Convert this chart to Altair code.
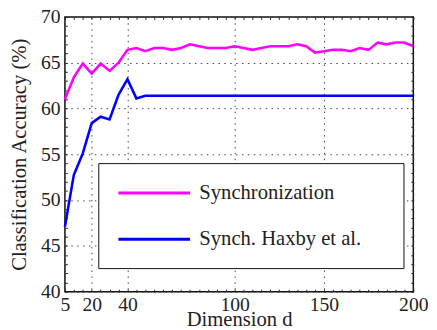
import altair as alt
import pandas as pd

dims = [5, 10, 15, 20, 25, 30, 35, 40, 45, 50, 55, 60, 65, 70, 75, 80, 85, 90, 95, 100,
        105, 110, 115, 120, 125, 130, 135, 140, 145, 150, 155, 160, 165, 170, 175, 180,
        185, 190, 195, 200]

sync = [61.0, 63.4, 64.9, 63.8, 64.9, 64.1, 65.0, 66.4, 66.6, 66.25, 66.6, 66.6, 66.4,
        66.6, 67.0, 66.8, 66.6, 66.6, 66.6, 66.8, 66.6, 66.4, 66.6, 66.8, 66.8, 66.8,
        67.0, 66.8, 66.1, 66.25, 66.4, 66.4, 66.25, 66.6, 66.4, 67.2, 67.0, 67.2, 67.2,
        66.8]

haxby = [47.1, 52.75, 55.1, 58.4, 59.1, 58.8, 61.5, 63.2, 61.1, 61.4, 61.4, 61.4, 61.4,
         61.4, 61.4, 61.4, 61.4, 61.4, 61.4, 61.4, 61.4, 61.4, 61.4, 61.4, 61.4, 61.4,
         61.4, 61.4, 61.4, 61.4, 61.4, 61.4, 61.4, 61.4, 61.4, 61.4, 61.4, 61.4, 61.4,
         61.4]

series_names = ["Synchronization", "Synch. Haxby et al."]
series_colors = ["#ff00ff", "#0000ff"]

x_ticks = [5, 20, 40, 100, 150, 200]
y_ticks = [40, 45, 50, 55, 60, 65, 70]
x_minor = dims
y_minor = list(range(40, 71))

rows = []
for name, vals in zip(series_names, [sync, haxby]):
    for d, v in zip(dims, vals):
        rows.append({"d": d, "acc": v, "method": name})
df = pd.DataFrame(rows)

FONT = "Liberation Serif"
FS = 20
TS = 21
xscale = alt.Scale(domain=[5, 200], nice=False, zero=False)
yscale = alt.Scale(domain=[40, 70], nice=False, zero=False)

base = alt.Chart(df)

lines = base.mark_line(strokeWidth=2.6).encode(
    x=alt.X("d:Q", scale=xscale,
            axis=alt.Axis(orient="bottom", values=x_ticks, title="Dimension d",
                          grid=True, gridDash=[1.5, 4.5], gridColor="#444",
                          ticks=False, tickSize=0, domain=False,
                          labelPadding=3, labelFlush=False, labelOverlap=False,
                          labelFontSize=FS, labelColor="#222",
                          titleFontSize=TS, titleFontWeight="normal",
                          titleColor="#222", titleX=177.5, titleY=34,
                          titleBaseline="alphabetic")),
    y=alt.Y("acc:Q", scale=yscale,
            axis=alt.Axis(orient="left", values=y_ticks,
                          title="Classification Accuracy (%)",
                          grid=True, gridDash=[1.5, 4.5], gridColor="#444",
                          ticks=False, tickSize=0, domain=False,
                          labelPadding=5, labelFontSize=FS,
                          labelColor="#222",
                          titleFontSize=TS, titleFontWeight="normal",
                          titleColor="#222", titleX=-46, titleY=140,
                          titleBaseline="middle", titleAngle=270)),
    color=alt.Color("method:N",
                    scale=alt.Scale(domain=series_names, range=series_colors),
                    legend=alt.Legend(orient="none", legendX=34, legendY=149,
                                      title="\u00a0", titleOrient="right",
                                      titlePadding=24, titleFontSize=TS,
                                      padding=19, rowPadding=25,
                                      strokeColor="#111", fillColor="white",
                                      symbolType="M-1,0H6.3", symbolSize=400,
                                      symbolStrokeWidth=3, labelOffset=61,
                                      labelFontSize=TS,
                                      labelColor="#222", labelLimit=400)),
)

minor_a = base.mark_point(opacity=0).encode(
    x=alt.X("d:Q", scale=xscale,
            axis=alt.Axis(orient="top", values=x_minor, labels=False, grid=False,
                          domain=False, tickSize=2.5, offset=-2.5, tickColor="#222",
                          title=None)),
    y=alt.Y("acc:Q", scale=yscale,
            axis=alt.Axis(orient="right", values=y_minor, labels=False, grid=False,
                          domain=False, tickSize=2.5, offset=-2.5, tickColor="#222",
                          title=None)),
)

minor_b = base.mark_point(opacity=0).encode(
    x=alt.X("d:Q", scale=xscale,
            axis=alt.Axis(orient="bottom", values=x_minor, labels=False, grid=False,
                          domain=False, tickSize=2.5, offset=-2.5, tickColor="#222",
                          title=None)),
    y=alt.Y("acc:Q", scale=yscale,
            axis=alt.Axis(orient="left", values=y_minor, labels=False, grid=False,
                          domain=False, tickSize=2.5, offset=-2.5, tickColor="#222",
                          title=None)),
)

chart = alt.layer(minor_a, minor_b, lines).resolve_axis(
    x="independent", y="independent"
).properties(
    width=355, height=280,
    autosize=alt.AutoSizeParams(type="none"),
    padding={"left": 58, "top": 6, "right": 16, "bottom": 36},
).configure(background="white", font=FONT).configure_view(stroke="#111", strokeWidth=1.5)

chart.save("out.html", embed_options={"renderer": "svg", "actions": False})
